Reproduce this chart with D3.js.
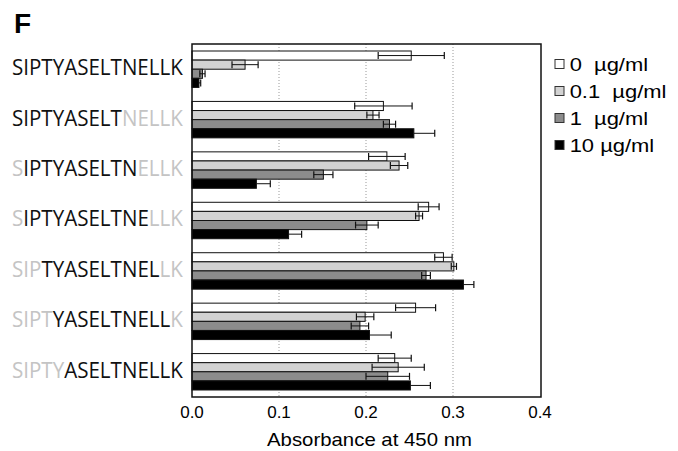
<!DOCTYPE html>
<html>
<head>
<meta charset="UTF-8">
<script src="https://d3js.org/d3.v7.min.js"></script>
<style>
  body { margin: 0; background: #fff; }
  svg { display: block; }
</style>
</head>
<body>
<svg id="chart"></svg>
<script>
// peptide labels, and which letters are dark (start..end, end exclusive)
const peptides = ["SIPTYASELTNELLK", "SIPTYASELTNELLK", "SIPTYASELTNELLK", "SIPTYASELTNELLK",
                  "SIPTYASELTNELLK", "SIPTYASELTNELLK", "SIPTYASELTNELLK"];
const darkStart = [0, 0, 1, 1, 3, 4, 5];
const darkEnd = [15, 10, 11, 12, 13, 14, 15];

const seriesNames = ["0  µg/ml", "0.1  µg/ml", "1  µg/ml", "10 µg/ml"];
const vals0 = [0.252, 0.220, 0.224, 0.272, 0.289, 0.257, 0.233];
const vals01 = [0.061, 0.208, 0.238, 0.261, 0.301, 0.199, 0.237];
const vals1 = [0.012, 0.227, 0.151, 0.201, 0.269, 0.193, 0.225];
const vals10 = [0.008, 0.255, 0.074, 0.111, 0.312, 0.204, 0.251];
const err0 = [0.038, 0.033, 0.021, 0.012, 0.010, 0.023, 0.019];
const err01 = [0.015, 0.007, 0.010, 0.004, 0.003, 0.010, 0.030];
const err1 = [0.003, 0.007, 0.011, 0.013, 0.005, 0.010, 0.025];
const err10 = [0.002, 0.024, 0.016, 0.015, 0.012, 0.025, 0.023];
const xTicks = [0, 0.1, 0.2, 0.3, 0.4];

const allVals = [vals0, vals01, vals1, vals10];
const allErr = [err0, err01, err1, err10];
const fills = ["#ffffff", "#d2d2d2", "#8c8c8c", "#000000"];

let width = 678, height = 451;
let svg = d3.select("#chart").attr("width", width).attr("height", height);

let plotLeft = 192, plotRight = 540, plotTop = 44, plotBottom = 397;

let x = d3.scaleLinear().domain([0, 0.4]).range([plotLeft, plotRight]);
let y = d3.scaleBand().domain(d3.range(peptides.length)).range([plotTop, plotBottom]);
let yInner = d3.scaleBand().domain(d3.range(seriesNames.length))
    .range([7, y.bandwidth() - 7]);

// stretch a text element horizontally to a given width
function stretch(t, x0, target) {
    let w = t.node().getComputedTextLength();
    t.attr("transform", "translate(" + x0 + ",0) scale(" + (target / w) + ",1) translate(" + (-x0) + ",0)");
}

// panel letter
svg.append("text")
    .attr("x", 14).attr("y", 33)
    .style("font-family", "Liberation Sans, Arial, sans-serif")
    .style("font-weight", "bold")
    .style("font-size", "28px")
    .text("F");

// dotted gridlines
svg.append("g").selectAll("line")
    .data([0.1, 0.2, 0.3])
    .enter().append("line")
    .attr("x1", d => x(d)).attr("x2", d => x(d))
    .attr("y1", plotTop).attr("y2", plotBottom)
    .attr("stroke", "#999")
    .attr("stroke-width", 1)
    .attr("stroke-dasharray", "1,2");

// bars
let groups = svg.append("g").selectAll("g")
    .data(peptides)
    .enter().append("g")
    .attr("transform", (d, i) => "translate(0," + y(i) + ")");

groups.each(function (p, gi) {
    let g = d3.select(this);
    seriesNames.forEach((s, si) => {
        let v = allVals[si][gi], e = allErr[si][gi];
        let by = yInner(si), bh = yInner.bandwidth();
        g.append("rect")
            .attr("x", x(0)).attr("y", by)
            .attr("width", x(v) - x(0)).attr("height", bh)
            .attr("fill", fills[si])
            .attr("stroke", "#111").attr("stroke-width", 1);
        let cy = by + bh / 2;
        let ends = si == 3 ? [v + e] : [v - e, v + e];
        g.append("line")
            .attr("x1", x(si == 3 ? v : v - e)).attr("x2", x(v + e))
            .attr("y1", cy).attr("y2", cy)
            .attr("stroke", "#111").attr("stroke-width", 1);
        ends.forEach(t => {
            g.append("line")
                .attr("x1", x(t)).attr("x2", x(t))
                .attr("y1", cy - 3.5).attr("y2", cy + 3.5)
                .attr("stroke", "#111").attr("stroke-width", 1.2);
        });
    });
});

// frame
svg.append("rect")
    .attr("x", plotLeft).attr("y", plotTop)
    .attr("width", plotRight - plotLeft + 1).attr("height", plotBottom - plotTop)
    .attr("fill", "none").attr("stroke", "#111").attr("stroke-width", 1.5);

// peptide labels
peptides.forEach((p, i) => {
    let t = svg.append("text")
        .attr("x", 12)
        .attr("y", y(i) + y.bandwidth() / 2 + 6)
        .style("font-family", "Open Sans, Noto Sans, sans-serif")
        .style("font-size", "21px");
    [[0, darkStart[i]], [darkStart[i], darkEnd[i]], [darkEnd[i], p.length]].forEach((r, k) => {
        if (r[1] > r[0]) {
            t.append("tspan")
                .attr("fill", k == 1 ? "#111" : "#c4c4c4")
                .text(p.slice(r[0], r[1]));
        }
    });
    stretch(t, 12, 171);
});

// x tick labels
svg.append("g").selectAll("text")
    .data(xTicks)
    .enter().append("text")
    .attr("x", d => x(d)).attr("y", 418)
    .attr("text-anchor", "middle")
    .style("font-family", "Liberation Sans, Arial, sans-serif")
    .style("font-size", "17px")
    .text(d => d3.format(".1f")(d));

let xTitle = svg.append("text")
    .attr("x", 267).attr("y", 446)
    .style("font-family", "Liberation Sans, Arial, sans-serif")
    .style("font-size", "18px")
    .text("Absorbance at 450 nm");
stretch(xTitle, 267, 205);

// legend
let legend = svg.append("g").selectAll("g")
    .data(seriesNames)
    .enter().append("g")
    .attr("transform", (d, i) => "translate(555," + (64 + i * 27) + ")");

legend.append("rect")
    .attr("x", 0).attr("y", -4.5)
    .attr("width", 9).attr("height", 9)
    .attr("fill", (d, i) => fills[i])
    .attr("stroke", "#333").attr("stroke-width", 1);

legend.append("text")
    .attr("x", 12).attr("y", 6.5)
    .attr("transform", "scale(1.22,1)")
    .style("font-family", "Liberation Sans, Arial, sans-serif")
    .style("font-size", "18px")
    .style("white-space", "pre")
    .attr("xml:space", "preserve")
    .text(d => d);
</script>
</body>
</html>
